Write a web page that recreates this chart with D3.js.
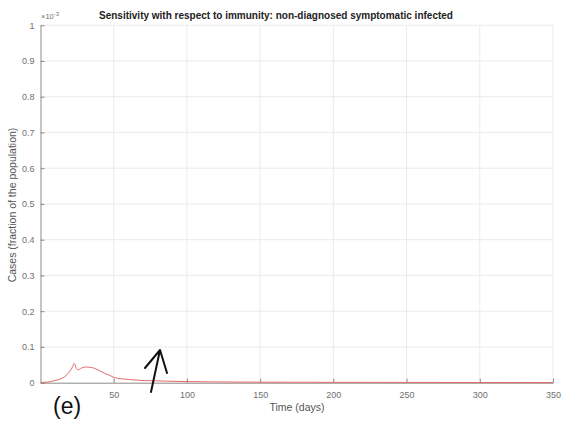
<!DOCTYPE html>
<html>
<head>
<meta charset="utf-8">
<script src="https://cdn.jsdelivr.net/npm/d3@7"></script>
<style>
  body { margin: 0; background: #fff; }
  text { font-family: "Liberation Sans", Arial, sans-serif; }
</style>
</head>
<body>
<script>
var w = 563;
var h = 421;

// values are in units of 1e-3 (fraction of population)
var days = [0, 5, 10, 15, 18, 20, 22, 23, 24.5, 25.5, 28, 31, 34, 37, 40, 44, 48, 50, 55, 60, 70, 80, 100, 150, 200, 250, 300, 350];
var cases = [0, 0.002, 0.006, 0.013, 0.022, 0.032, 0.045, 0.054, 0.040, 0.036, 0.041, 0.044, 0.043, 0.040, 0.034, 0.026, 0.019, 0.015, 0.011, 0.009, 0.006, 0.005, 0.003, 0.0015, 0.001, 0.0008, 0.0006, 0.0005];
var xTicks = [50, 100, 150, 200, 250, 300, 350];
var yTicks = [0, 0.1, 0.2, 0.3, 0.4, 0.5, 0.6, 0.7, 0.8, 0.9, 1];

var svg = d3.select("body").append("svg").attr("width", w).attr("height", h);

var x = d3.scaleLinear().domain([0, 350]).range([40.5, 553]);
var y = d3.scaleLinear().domain([0, 1]).range([382.7, 25.2]);

//grid lines
var g = svg.append("g");
g.selectAll("line.vgrid")
  .data(xTicks)
  .enter()
  .append("line")
  .attr("x1", d => x(d)).attr("x2", d => x(d))
  .attr("y1", y(0)).attr("y2", y(1))
  .attr("stroke", "#ebebeb");
g.selectAll("line.hgrid")
  .data(yTicks.slice(1))
  .enter()
  .append("line")
  .attr("x1", x(0)).attr("x2", x(350))
  .attr("y1", d => y(d)).attr("y2", d => y(d))
  .attr("stroke", "#ebebeb");

//axes, ticks point inward like matlab
var xAxis = d3.axisBottom(x).tickValues(xTicks).tickSizeInner(-4).tickSizeOuter(0).tickPadding(9);
var yAxis = d3.axisLeft(y).tickValues(yTicks).tickFormat(d => d3.format("")(d)).tickSizeInner(-4).tickSizeOuter(0).tickPadding(6);

var gx = svg.append("g").attr("transform", "translate(0," + y(0) + ")").call(xAxis);
var gy = svg.append("g").attr("transform", "translate(" + x(0) + ",0)").call(yAxis);
[gx, gy].forEach(function (a) {
  a.selectAll("path").attr("stroke", "#8a8a8a");
  a.selectAll("line").attr("stroke", "#8a8a8a");
  a.selectAll("text").attr("fill", "#707070").style("font-size", "9px").style("font-family", "'Liberation Sans', Arial, sans-serif");
});

//data line
var line = d3.line().x((d, i) => x(days[i])).y(d => y(d)).curve(d3.curveMonotoneX);
svg.append("path")
  .datum(cases)
  .attr("d", line)
  .attr("fill", "none")
  .attr("stroke", "#e46a6a")
  .attr("stroke-width", 1);

//title and labels
svg.append("text")
  .attr("x", 276).attr("y", 19)
  .attr("text-anchor", "middle")
  .style("font-size", "10px").style("font-weight", "bold")
  .attr("fill", "#222")
  .text("Sensitivity with respect to immunity: non-diagnosed symptomatic infected");

var ex = svg.append("text").attr("x", 41).attr("y", 19).style("font-size", "7.5px").attr("fill", "#707070");
ex.append("tspan").text("\u00d710");
ex.append("tspan").attr("dy", -3).style("font-size", "6px").text("-3");

svg.append("text")
  .attr("x", 297).attr("y", 411)
  .attr("text-anchor", "middle")
  .style("font-size", "10.5px")
  .attr("fill", "#555")
  .text("Time (days)");

svg.append("text")
  .attr("transform", "translate(16,205) rotate(-90)")
  .attr("text-anchor", "middle")
  .style("font-size", "10.5px")
  .attr("fill", "#555")
  .text("Cases (fraction of the population)");

svg.append("text")
  .attr("x", 53).attr("y", 414)
  .style("font-size", "23px")
  .attr("fill", "#111")
  .text("(e)");

//hand drawn arrow
svg.append("path")
  .attr("d", "M151,392 L160,350 M145,368 L160,350 L167,373")
  .attr("fill", "none")
  .attr("stroke", "#111")
  .attr("stroke-width", 2)
  .attr("stroke-linecap", "round")
  .attr("stroke-linejoin", "round");
</script>
</body>
</html>
